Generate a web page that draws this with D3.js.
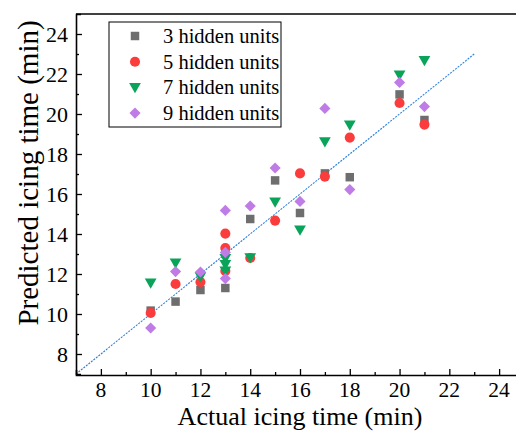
<!DOCTYPE html>
<meta charset="utf-8">
<script src="https://d3js.org/d3.v7.js"></script>
<style>
  body { margin: 0; background: #fff; }
</style>
<div id="my_dataviz"></div>
<script>

// data: [actual, predicted]
var units3 = [[10,10.17],[11,10.62],[12,11.2],[13,11.3],[14,14.75],[15,16.68],[16,15.05],[17,17.03],[18,16.84],[20,20.98],[21,19.7]];
var units5 = [[10,10.05],[11,11.5],[12,11.6],[13,14.02],[13,13.3],[13,12.15],[14,12.8],[15,14.67],[16,17.03],[17,16.87],[18,18.82],[20,20.55],[21,19.47]];
var units7 = [[10,11.55],[11,12.55],[12,11.87],[13,12.78],[13,12.48],[13,12.15],[14,12.82],[15,15.6],[16,14.2],[17,18.62],[18,19.45],[20,21.95],[21,22.68]];
var units9 = [[10,9.3],[11,12.12],[12,12.1],[13,15.18],[13,13.08],[13,11.77],[14,15.4],[15,17.3],[16,15.63],[17,20.28],[18,16.22],[20,21.58],[21,20.37]];
var fitLine = [[7,7],[23,23]];
var seriesNames = ["3 hidden units", "5 hidden units", "7 hidden units", "9 hidden units"];
var xTicks = [8,10,12,14,16,18,20,22,24];
var yTicks = [8,10,12,14,16,18,20,22,24];

var W = 516, H = 432;
var serif = "'Liberation Serif', 'Times New Roman', Times, serif";
var svg = d3.select("#my_dataviz").append("svg")
  .attr("width", W).attr("height", H)
  .attr("font-family", serif);

var x = d3.scaleLinear().domain([7, 25]).range([76, 524]);
var y = d3.scaleLinear().domain([7, 25]).range([374, 14]);

var colors = ["#6e6e6e", "#fa3c3c", "#0aa35a", "#c07ce6"];
var shapes = [
  d3.symbol().type(d3.symbolSquare).size(72),
  d3.symbol().type(d3.symbolCircle).size(80),
  d3.symbol().type(d3.symbolTriangle).size(60),
  d3.symbol().type(d3.symbolSquare).size(62)
];
var rot = [0, 0, 180, 45];
var yShift = [0, 0, -1, 0];

// fit line
svg.append("path")
  .datum(fitLine)
  .attr("d", d3.line().x(d => x(d[0])).y(d => y(d[1])))
  .attr("stroke", "#2a7fe0")
  .attr("stroke-width", 1.1)
  .attr("stroke-dasharray", "2,1.2")
  .attr("fill", "none");

// points
[units3, units5, units7, units9].forEach(function(data, i) {
  svg.append("g").selectAll("path")
    .data(data).enter().append("path")
      .attr("d", shapes[i])
      .attr("transform", d => "translate(" + x(d[0]) + "," + (y(d[1]) + yShift[i]) + ") rotate(" + rot[i] + ")")
      .attr("fill", colors[i]);
});

// axes (ticks pointing inward)
var xAxis = svg.append("g")
  .attr("transform", "translate(0,375)")
  .call(d3.axisBottom(x).tickValues(d3.range(8, 25, 1)).tickSize(-5).tickFormat(""));
xAxis.selectAll(".tick line").attr("y2", d => d % 2 ? -3 : -6).attr("stroke-width", 1.3);
xAxis.select(".domain").attr("stroke-width", 1.6);

var yAxis = svg.append("g")
  .attr("transform", "translate(76,0)")
  .call(d3.axisLeft(y).tickValues(d3.range(8, 25, 1)).tickSize(-5).tickFormat(""));
yAxis.selectAll(".tick line").attr("x2", d => d % 2 ? 3 : 6).attr("stroke-width", 1.3);
yAxis.select(".domain").attr("stroke-width", 1.6);

// top border
svg.append("line")
  .attr("x1", 76).attr("x2", W).attr("y1", 14).attr("y2", 14)
  .attr("stroke", "#000").attr("stroke-width", 1.6);

// tick labels
svg.append("g").selectAll("text").data(xTicks).enter().append("text")
  .attr("x", d => x(d)).attr("y", 397)
  .attr("text-anchor", "middle").attr("font-size", 21.5)
  .attr("font-family", serif)
  .text(d => d);
svg.append("g").selectAll("text").data(yTicks).enter().append("text")
  .attr("x", 68).attr("y", d => y(d) + 7.5)
  .attr("text-anchor", "end").attr("font-size", 22)
  .attr("font-family", serif)
  .text(d => d);

// axis titles
svg.append("text")
  .attr("x", 300).attr("y", 425)
  .attr("text-anchor", "middle").attr("font-size", 26)
  .attr("font-family", serif)
  .text("Actual icing time (min)");
svg.append("text")
  .attr("transform", "translate(38,173) rotate(-90)")
  .attr("text-anchor", "middle").attr("font-size", 29)
  .attr("font-family", serif)
  .text("Predicted icing time (min)");

// legend
var legend = svg.append("g");
legend.append("rect")
  .attr("x", 109).attr("y", 22).attr("width", 172).attr("height", 105)
  .attr("fill", "#fff").attr("stroke", "#000").attr("stroke-width", 1);
seriesNames.forEach(function(name, i) {
  var ly = 36 + i * 25.7;
  legend.append("path")
    .attr("d", shapes[i])
    .attr("transform", "translate(135," + (ly + yShift[i]) + ") rotate(" + rot[i] + ")")
    .attr("fill", colors[i]);
  legend.append("text")
    .attr("x", 163).attr("y", ly + 7)
    .attr("font-size", 20.5)
    .attr("font-family", serif)
    .text(name);
});

</script>
